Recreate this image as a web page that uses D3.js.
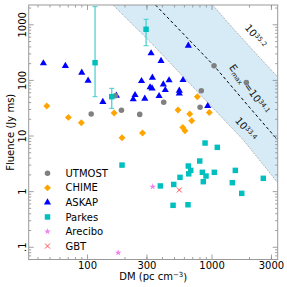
<!DOCTYPE html>
<meta charset="utf-8">
<script src="https://d3js.org/d3.v7.min.js"></script>
<style>
body { margin:0; background:white; overflow:hidden; }
text { font-family: "DejaVu Sans", sans-serif; }
</style>
<body>
<div id="chart"></div>
<script>

// survey data: DM (pc cm^-3) and fluence (Jy ms)
var utmostDM = [108, 169, 189, 265, 413, 809, 828, 1047, 1904];
var utmostF  = [24.4, 52, 28.4, 24.0, 39.5, 32.2, 64, 180, 89.8];

var chimeDM = [47.5, 70.8, 90, 165, 191, 279, 538, 587, 612, 668, 693, 769, 960];
var chimeF  = [34.0, 21.2, 17.0, 25.4, 9.1, 11.1, 28.8, 14.0, 12.2, 24.4, 18.5, 49.9, 25.9];

var askapDM = [44.6, 67, 90.7, 102, 134, 172, 235, 243, 274, 291, 321, 327, 393, 651,
               335, 333, 379, 410, 425, 456, 551, 551, 590, 932];
var askapF  = [199, 178, 135, 96.8, 40.1, 52, 44.8, 53.5, 95.5, 45.9, 73.6, 301, 219, 412,
               110, 70.6, 51.3, 83.3, 65.8, 98.4, 64, 57.4, 99.6, 33.9];

var parkesDM = [116, 158, 298, 191, 887, 1113, 804, 651, 681, 656, 558, 844, 903, 1053,
                1553, 1469, 2606, 859, 497, 388, 1748, 491, 647];
var parkesF  = [204, 49.9, 813, 2.94, 7.33, 6.13, 3.48, 2.83, 2.36, 2.05, 1.77, 2.18, 1.87, 2.18,
                2.36, 1.42, 1.70, 1.48, 1.32, 1.24, 0.912, 0.556, 0.569];
// error bars for the first three Parkes bursts
var parkesLo = [49.9, 30.8, 412];
var parkesHi = [2073, 70.6, 1230];

var areciboDM = [178, 337];
var areciboF  = [0.078, 1.2];

var gbtDM = [551];
var gbtF  = [1.05];

// energy band curves (DM, fluence)
var bandLowDM = [161.8, 320.6, 808.6, 1800, 3400];
var bandLowF  = [2223, 486, 54.9, 8.3, 1.42];
var bandHighDM = [1022, 1408, 2453, 3400];
var bandHighF  = [2223, 971, 248, 112.7];
var midDM = [354.8, 1047, 2037, 3400];
var midF  = [2223, 180, 31.3, 8.3];

var xTicks = [100, 300, 1000, 3000];
var xTickLabels = ['100', '300', '1000', '3000'];
var yTicks = [0.1, 1, 10, 100, 1000];
var yTickLabels = ['.1', '1', '10', '100', '1000'];

var legendNames = ['UTMOST', 'CHIME', 'ASKAP', 'Parkes', 'Arecibo', 'GBT'];

var width = 287, height = 287;
var L = 28.7, R = 277.7, T = 5, B = 259.5;

var svg = d3.select('#chart').append('svg')
  .attr('width', width).attr('height', height);

var x = d3.scaleLog().domain([34, 3400]).range([L, R]);
var y = d3.scaleLog().domain([0.059, 2223]).range([B, T]);

var zip = function(a, b) { return a.map(function(d, i) { return [d, b[i]]; }); };

svg.append('clipPath').attr('id', 'clip')
  .append('rect').attr('x', L).attr('y', T).attr('width', R - L).attr('height', B - T);

var plot = svg.append('g').attr('clip-path', 'url(#clip)');

var line = d3.line().x(function(d) { return x(d[0]); }).y(function(d) { return y(d[1]); });

var lowPts = zip(bandLowDM, bandLowF);
var highPts = zip(bandHighDM, bandHighF);
plot.append('path')
  .attr('d', line(lowPts.concat(highPts.slice().reverse())) + 'Z')
  .attr('fill', '#d6ebf6');
plot.append('path').attr('d', line(lowPts))
  .attr('fill', 'none').attr('stroke', '#8a8a8a').attr('stroke-width', 0.8).attr('stroke-dasharray', '1,1.2');
plot.append('path').attr('d', line(highPts))
  .attr('fill', 'none').attr('stroke', '#8a8a8a').attr('stroke-width', 0.8).attr('stroke-dasharray', '1,1.2');
plot.append('path').attr('d', line(zip(midDM, midF)))
  .attr('fill', 'none').attr('stroke', '#000').attr('stroke-width', 1).attr('stroke-dasharray', '3,2.5');

// band labels
var bandLabel = function(px, py, ang, parts) {
  var t = svg.append('text')
    .attr('transform', 'translate(' + px + ',' + py + ') rotate(' + ang + ')')
    .attr('text-anchor', 'middle').style('font-size', '10px').attr('fill', '#111');
  parts.forEach(function(p) {
    var ts = t.append('tspan').text(p[0]);
    if (p[1] == 'sup') ts.attr('dy', '-0.45em').style('font-size', '6.5px');
    if (p[1] == 'sub') ts.attr('dy', '0.3em').style('font-size', '6.5px');
    if (p[1] == 'base') ts.attr('dy', p[2]);
  });
};
bandLabel(x(2150), y(560), 50, [['10'], ['35.2', 'sup']]);
bandLabel(x(1900), y(62), 54, [['E'], ['max', 'sub'], [' =10', 'base', '-0.3em'], ['34.1', 'sup']]);
bandLabel(x(1800), y(12), 50, [['10'], ['33.4', 'sup']]);

// minor/major ticks on all four sides
var minor = [];
[10, 100, 1000].forEach(function(d) { for (var k = 2; k < 10; k++) minor.push(d * k); });
minor = minor.filter(function(v) { return v > 34 && v < 3400; });
var minorY = [];
[0.01, 0.1, 1, 10, 100, 1000].forEach(function(d) { for (var k = 2; k < 10; k++) minorY.push(d * k); });
minorY = minorY.filter(function(v) { return v > 0.059 && v < 2223; });

var styleAxis = function(g) {
  g.select('.domain').remove();
  g.selectAll('line').attr('stroke', '#888').attr('stroke-width', 0.8);
  g.selectAll('text').style('font-size', '10px').style('font-family', '"DejaVu Sans", sans-serif').attr('fill', '#000');
};

svg.append('g').attr('transform', 'translate(0,' + B + ')')
  .call(d3.axisBottom(x).tickValues(minor).tickSize(-2.5).tickFormat('')).call(styleAxis);
svg.append('g').attr('transform', 'translate(0,' + B + ')')
  .call(d3.axisBottom(x).tickValues(xTicks).tickSize(-5).tickPadding(2.5)
    .tickFormat(function(d, i) { return xTickLabels[i]; })).call(styleAxis);
svg.append('g').attr('transform', 'translate(0,' + T + ')')
  .call(d3.axisTop(x).tickValues(minor).tickSize(-2.5).tickFormat('')).call(styleAxis);
svg.append('g').attr('transform', 'translate(0,' + T + ')')
  .call(d3.axisTop(x).tickValues(xTicks).tickSize(-5).tickFormat('')).call(styleAxis);

svg.append('g').attr('transform', 'translate(' + L + ',0)')
  .call(d3.axisLeft(y).tickValues(minorY).tickSize(-2.5).tickFormat('')).call(styleAxis);
var yAx = svg.append('g').attr('transform', 'translate(' + L + ',0)')
  .call(d3.axisLeft(y).tickValues(yTicks).tickSize(-5)
    .tickFormat(function(d, i) { return yTickLabels[i]; })).call(styleAxis);
yAx.selectAll('text').attr('transform', 'rotate(-90)').attr('x', 0).attr('y', -2.5)
  .attr('dy', 0).style('text-anchor', 'middle');
svg.append('g').attr('transform', 'translate(' + R + ',0)')
  .call(d3.axisRight(y).tickValues(minorY).tickSize(-2.5).tickFormat('')).call(styleAxis);
svg.append('g').attr('transform', 'translate(' + R + ',0)')
  .call(d3.axisRight(y).tickValues(yTicks).tickSize(-5).tickFormat('')).call(styleAxis);

svg.append('rect').attr('x', L).attr('y', T).attr('width', R - L).attr('height', B - T)
  .attr('fill', 'none').attr('stroke', '#999').attr('stroke-width', 1);

// axis titles
var xt = svg.append('text').attr('x', (L + R) / 2).attr('y', 280)
  .attr('text-anchor', 'middle').style('font-size', '10px');
xt.append('tspan').text('DM (pc cm');
xt.append('tspan').text('\u22123').attr('dy', '-0.45em').style('font-size', '7px');
xt.append('tspan').text(')').attr('dy', '0.45em');

svg.append('text').attr('transform', 'translate(14,' + (T + B) / 2 + ') rotate(-90)')
  .attr('text-anchor', 'middle').style('font-size', '10px').text('Fluence (Jy ms)');

// markers
var sym = {
  UTMOST:  { type: d3.symbolCircle, size: 24, fill: '#808080', rot: 0 },
  CHIME:   { type: d3.symbolSquare, size: 24, fill: '#ffa500', rot: 45 },
  ASKAP:   { type: d3.symbolTriangle, size: 22, fill: '#0000ff', rot: 0 },
  Parkes:  { type: d3.symbolSquare, size: 30, fill: '#00bfbf', rot: 0 },
  Arecibo: { type: d3.symbolStar, size: 14, fill: '#ee82ee', rot: 0 },
  GBT:     { type: d3.symbolTimes, size: 18, fill: 'none', stroke: '#ff4d4d', rot: 0 }
};

var drawSet = function(name, dm, fl) {
  var s = sym[name];
  svg.append('g').selectAll('path').data(zip(dm, fl)).enter().append('path')
    .attr('d', d3.symbol().type(s.type).size(s.size))
    .attr('transform', function(d) {
      return 'translate(' + x(d[0]) + ',' + y(d[1]) + ') rotate(' + s.rot + ')';
    })
    .attr('fill', s.fill)
    .attr('stroke', s.stroke || 'none').attr('stroke-width', 1);
};

// Parkes error bars
var errG = svg.append('g');
parkesLo.forEach(function(lo, i) {
  var cx = x(parkesDM[i]);
  errG.append('line').attr('x1', cx).attr('x2', cx).attr('y1', y(lo)).attr('y2', y(parkesHi[i]))
    .attr('stroke', '#40cfcf').attr('stroke-width', 1.2);
  [lo, parkesHi[i]].forEach(function(v) {
    errG.append('line').attr('x1', cx - 2.5).attr('x2', cx + 2.5).attr('y1', y(v)).attr('y2', y(v))
      .attr('stroke', '#40cfcf').attr('stroke-width', 1);
  });
});

drawSet('ASKAP', askapDM, askapF);
drawSet('UTMOST', utmostDM, utmostF);
drawSet('CHIME', chimeDM, chimeF);
drawSet('Parkes', parkesDM, parkesF);
drawSet('Arecibo', areciboDM, areciboF);
drawSet('GBT', gbtDM, gbtF);

// legend
var leg = svg.append('g');
legendNames.forEach(function(name, i) {
  var s = sym[name];
  var ly = 173.3 + i * 14.55;
  leg.append('path').attr('d', d3.symbol().type(s.type).size(s.size))
    .attr('transform', 'translate(47.5,' + ly + ') rotate(' + s.rot + ')')
    .attr('fill', s.fill).attr('stroke', s.stroke || 'none');
  leg.append('text').attr('x', 65.5).attr('y', ly + 3.6).style('font-size', '10px').text(name);
});

</script>
</body>
